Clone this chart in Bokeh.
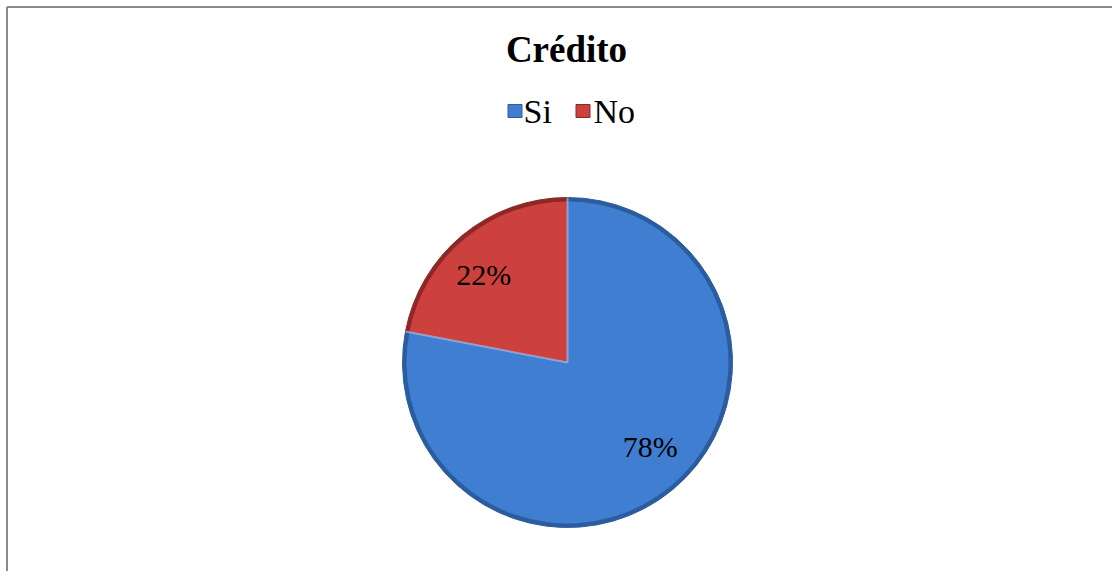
import math
from bokeh.plotting import figure
from bokeh.models import Range1d, ColumnDataSource
from bokeh.core.properties import value
from bokeh.embed import file_html
from bokeh.resources import INLINE

# ---- data ----
title = "Crédito"
categories = ["Si", "No"]
values = [78, 22]
colors = ["#3F7ED0", "#CC403D"]
edge_colors = ["#2A5C9E", "#8E2826"]
labels = ["78%", "22%"]

W, H = 1112, 571
p = figure(width=W, height=H, output_backend="svg", toolbar_location=None,
           x_range=Range1d(0, W), y_range=Range1d(0, H), min_border=0,
           background_fill_color="white", border_fill_color="white")
p.axis.visible = False
p.grid.visible = False
p.outline_line_color = None

# pie geometry (layout)
cx, cy, R = 567, 209, 165
total = sum(values)
start = math.pi / 2
starts, ends, mids = [], [], []
a = start
for v in values:
    sweep = 2 * math.pi * v / total
    starts.append(a)
    ends.append(a - sweep)
    mids.append(a - sweep / 2)
    a -= sweep

# label placement nudges (screen px), mimicking Excel's label layout
lab_dx = [7, -8]
lab_dy = [-8, 4]

src = ColumnDataSource(dict(start=starts, end=ends, fill=colors, edge=edge_colors,
                            lx=[cx + 0.72 * R * math.cos(m) for m in mids],
                            ly=[cy + 0.72 * R * math.sin(m) for m in mids],
                            dx=lab_dx, dy=lab_dy, lab=labels))
p.wedge(x=cx, y=cy, radius=R, start_angle="start", end_angle="end", direction="clock",
        fill_color="edge", line_color="edge", line_width=1, source=src)
p.wedge(x=cx, y=cy, radius=R - 4, start_angle="start", end_angle="end", direction="clock",
        fill_color="fill", line_color=None, source=src)
# slice boundaries highlight
p.segment(x0=cx, y0=cy, x1=[cx + R * math.cos(s) for s in starts],
          y1=[cy + R * math.sin(s) for s in starts], line_color="#9CC0EE", line_width=2,
          line_alpha=0.7)

p.text(x="lx", y="ly", text="lab", source=src, text_align="center", text_baseline="middle",
       text_font=value("Liberation Serif"), text_font_size="30px", text_color="black",
       x_offset="dx", y_offset="dy")

# title
p.text(x=[566], y=[522], text=[title], text_align="center", text_baseline="alphabetic",
       text_font=value("Liberation Serif"), text_font_style="bold", text_font_size="37px",
       text_color="black")

# legend
leg_sq_x = [514.5, 582.5]
leg_tx_x = [523, 593]
p.rect(x=leg_sq_x, y=[460.5, 460.5], width=14, height=13, fill_color=colors,
       line_color=edge_colors, line_width=1)
p.text(x=leg_tx_x, y=[460, 460], text=categories, text_align="left", text_baseline="alphabetic",
       text_font=value("Liberation Serif"), text_font_size="34px", text_color="black")

# chart border (top and left visible)
p.segment(x0=[6.5, 6.5], y0=[0, H - 6.5], x1=[6.5, W], y1=[H - 6.5, H - 6.5],
          line_color="#8A8A8A", line_width=2)

open("out.html", "w").write(file_html(p, INLINE))
